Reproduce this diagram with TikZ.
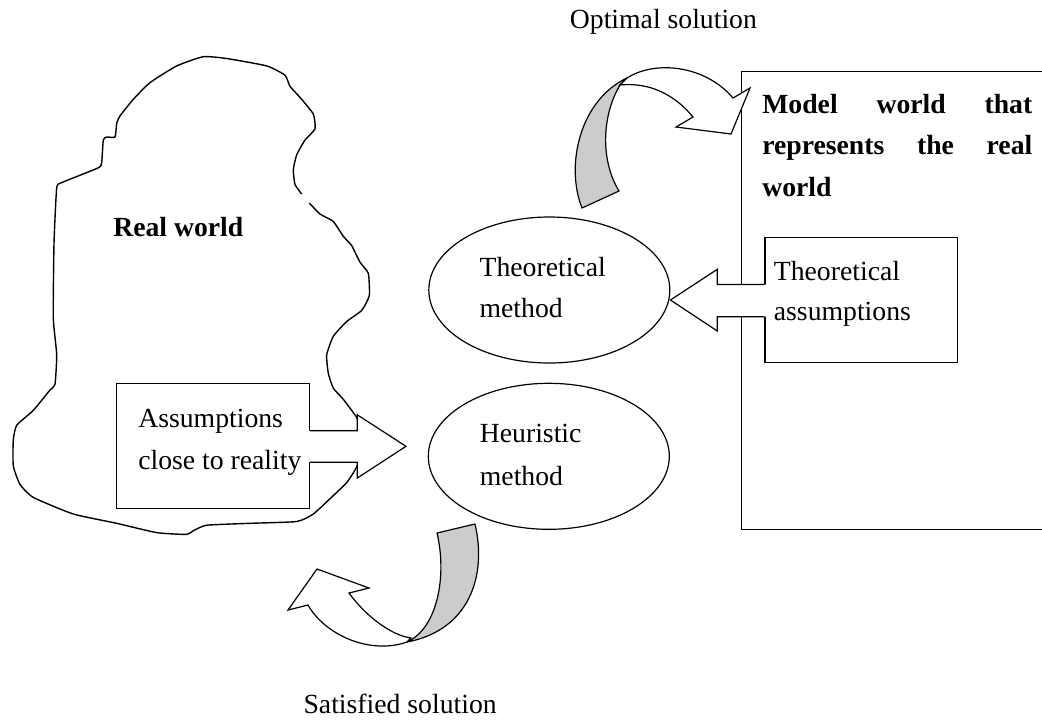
\documentclass[tikz,border=0pt]{standalone}
\usepackage{fontspec}
\setmainfont{Liberation Serif}
\usetikzlibrary{shapes.geometric,calc}

\tikzset{
  lbl/.style={inner sep=0pt, font=\fontsize{13.85}{16}\selectfont},
  boldlbl/.style={inner sep=0pt, font=\fontsize{13.85}{16}\selectfont\bfseries},
  method/.style={draw, ellipse, minimum width=120.5pt, minimum height=73pt, inner sep=0pt},
  asmbox/.style={draw, fill=white, minimum width=96.3pt, minimum height=62.5pt, inner sep=0pt},
  ribbon/.style={draw, fill=gray!40, line join=round},
  arrowface/.style={draw, fill=white, line join=miter}
}

\begin{document}
\begin{tikzpicture}[x=0.5pt, y=-0.5pt, line width=0.6pt]
    \useasboundingbox (0,0) rectangle (1042,720);

    % real world outline
    \draw[line width=0.7pt] plot[smooth, tension=0.3] coordinates {
      (309.3,203) (320,214) (333.3,221.5) (343.3,236.3) (351.7,245.6) (360,262.2)
      (368.3,273.3) (369.3,295.6) (361.7,310.4) (346.7,321.5) (333.3,336.3) (326.7,354.8)
      (328.3,373.3) (333.3,388.1) (343.3,399.3) (351.7,410.4) (357,418) (362,432)
      (362,455) (355,470) (346.7,482.6) (333.3,495.6) (313.3,514) (296.7,521.5)
      (250,523.3) (206.7,525.2) (193.3,530.7) (186.7,534.4) (156.7,532.6) (116.7,523.3)
      (73.3,514) (33.3,497.4) (20,484.4) (13.3,465.9) (13.3,440) (16.7,425.2)
      (33.3,410.4) (50,390) (55,384.4) (56.7,354.8) (53.3,317.8) (54,243.7)
      (56.7,188.1) (61.7,182.6) (98.3,167.8) (101.7,162.2) (103.3,140) (106.7,137)
      (115,137) (116.7,123.3) (120,115.9) (133.3,99.3) (150,82.6) (176.7,65.9)
      (203.3,56.7) (226.7,58.5) (266.7,65.9) (285,75.2) (290,86.3) (300,97.4)
      (313.3,114) (315,128.9) (305,140) (296.7,154.8) (293.3,169.6) (295,184.4)
      (301.7,194)};

    \node[asmbox] (realasm) at (213,446.1) {};
    \fill[white] (307.8,430.7) -- (357.3,430.7) -- (357.3,414.8) -- (406,446.3)
      -- (357.3,478) -- (357.3,462.2) -- (307.8,462.2) -- cycle;
    \draw (realasm.east |- 0,430.7) -- (357.3,430.7) -- (357.3,414.8) -- (406,446.3)
      -- (357.3,478) -- (357.3,462.2) -- (realasm.east |- 0,462.2);

    \node[method] (theo) at (549.3,290) {};
    \node[method] (heur) at (548.8,456.3) {};

    \node[draw, anchor=north west, minimum width=156pt, minimum height=229pt, inner sep=0pt] (model) at (741,71) {};
    \node[asmbox] (theoasm) at (861.35,300.25) {};
    \fill[white] (766.5,284.5) -- (717.3,284.5) -- (717.3,269.3) -- (theo.east |- 0,300)
      -- (717.3,331) -- (717.3,316.7) -- (766.5,316.7) -- cycle;
    \draw (theoasm.west |- 0,284.5) -- (717.3,284.5) -- (717.3,269.3) -- (theo.east |- 0,300)
      -- (717.3,331) -- (717.3,316.7) -- (theoasm.west |- 0,316.7);

    % curved arrow to the model world
    \draw[ribbon] (582,208) .. controls (565,165) and (580,100) .. (627,78) -- (620,85)
      .. controls (602,115) and (600,160) .. (619,191) -- cycle;
    \draw[arrowface] (627,78) .. controls (655,60) and (705,65) .. (733,98) -- (750,88)
      -- (731,134) -- (676,127) -- (693,117) .. controls (675,95) and (650,82) .. (620,85) -- cycle;

    % curved arrow back to the real world
    \draw[ribbon] (437,533) -- (475,524) .. controls (487,575) and (470,630) .. (407,642)
      .. controls (438,628) and (447,575) .. cycle;
    \draw[arrowface] (407,642) .. controls (370,655) and (325,635) .. (308,605) -- (288,610)
      -- (317,569) -- (369,588) -- (349,593) .. controls (365,615) and (390,635) .. (411,638) -- cycle;

    \node[boldlbl, anchor=base west] (real) at (112.7,236.3) {Real world};
    \node[lbl, anchor=base west] (realasm1) at (137.7,427) {Assumptions};
    \node[lbl, anchor=base west] (realasm2) at ($(realasm1.base west)+(0,42.6)$) {close to reality};

    \node[lbl, anchor=base west] (theo1) at (479,276.7) {Theoretical};
    \node[lbl, anchor=base west] (theo2) at ($(theo1.base west)+(0,40.6)$) {method};
    \node[lbl, anchor=base west] (heur1) at (479.3,442.7) {Heuristic};
    \node[lbl, anchor=base west] (heur2) at ($(heur1.base west)+(0,42.3)$) {method};

    \node[boldlbl, anchor=base west] (model1) at (761.7,113.3) {\makebox[135pt][s]{Model world that}};
    \node[boldlbl, anchor=base west] (model2) at ($(model1.base west)+(0,41)$) {\makebox[135pt][s]{represents the real}};
    \node[boldlbl, anchor=base west] (model3) at ($(model2.base west)+(0,42.4)$) {world};

    \node[lbl, anchor=base west] (theoasm1) at (773.3,280) {Theoretical};
    \node[lbl, anchor=base west] (theoasm2) at ($(theoasm1.base west)+(0,40)$) {assumptions};

    \node[lbl, anchor=base west] (optimal) at (569.3,28.3) {Optimal solution};
    \node[lbl, anchor=base east] (satisfied) at (497.3,713.3) {Satisfied solution};
  \end{tikzpicture}
\end{document}
